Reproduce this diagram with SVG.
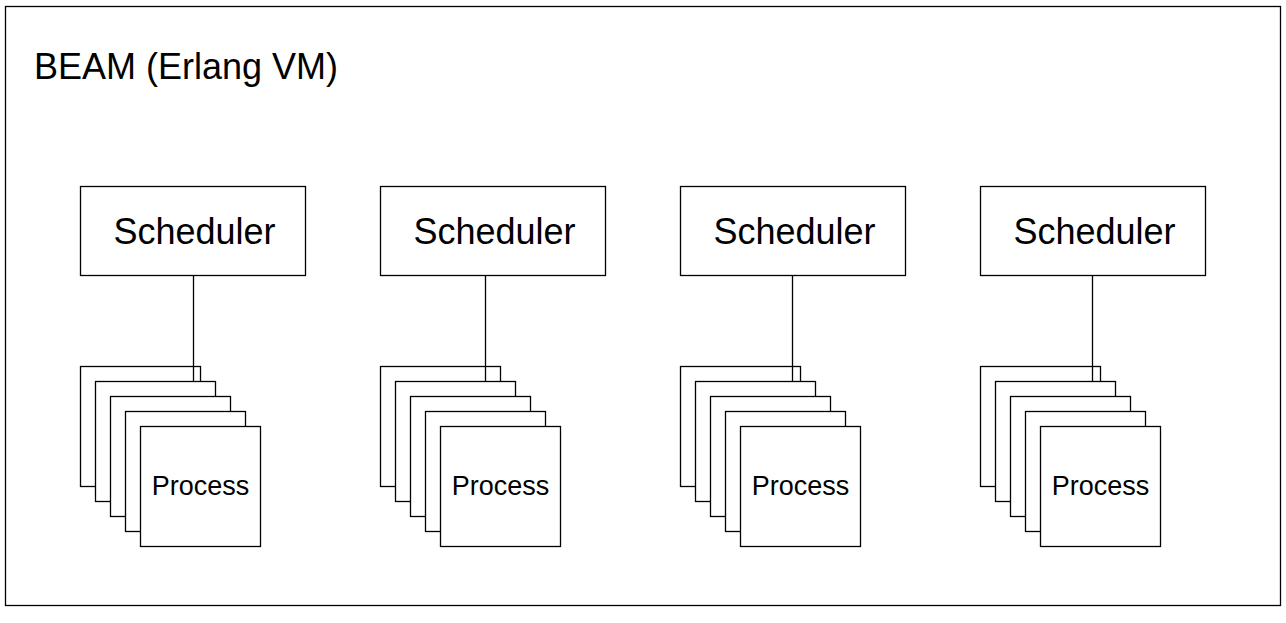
<svg xmlns="http://www.w3.org/2000/svg" width="1286" height="623" viewBox="0 0 1286 623">
<style>
.box{fill:#fff;stroke:#000;stroke-width:1.3}
.ln{stroke:#000;stroke-width:1.3;fill:none}
.t{font-family:"Liberation Sans",Arial,sans-serif;fill:#000}
.sch{font-size:36px;text-anchor:middle}
.pr{font-size:27px;text-anchor:middle}
</style>
<rect x="0" y="0" width="1286" height="623" fill="#fff"/>
<g id="beam">
<rect class="box" x="5.5" y="6.5" width="1275" height="599"/>
<text class="t" x="34" y="79" font-size="36">BEAM (Erlang VM)</text>
</g>
<g id="schedulers">
<g id="scheduler1"><rect class="box" x="80.5" y="186.5" width="225" height="89"/><text class="t sch" x="194.5" y="243.5">Scheduler</text></g>
<g id="scheduler2"><rect class="box" x="380.5" y="186.5" width="225" height="89"/><text class="t sch" x="494.5" y="243.5">Scheduler</text></g>
<g id="scheduler3"><rect class="box" x="680.5" y="186.5" width="225" height="89"/><text class="t sch" x="794.5" y="243.5">Scheduler</text></g>
<g id="scheduler4"><rect class="box" x="980.5" y="186.5" width="225" height="89"/><text class="t sch" x="1094.5" y="243.5">Scheduler</text></g>
</g>
<g id="stack1-back"><rect class="box" x="80.5" y="366.5" width="120" height="120"/></g>
<g id="stack2-back"><rect class="box" x="380.5" y="366.5" width="120" height="120"/></g>
<g id="stack3-back"><rect class="box" x="680.5" y="366.5" width="120" height="120"/></g>
<g id="stack4-back"><rect class="box" x="980.5" y="366.5" width="120" height="120"/></g>
<g id="connectors">
<line class="ln" x1="193.5" y1="275.5" x2="193.5" y2="381.5"/>
<line class="ln" x1="485.5" y1="275.5" x2="485.5" y2="381.5"/>
<line class="ln" x1="792.5" y1="275.5" x2="792.5" y2="381.5"/>
<line class="ln" x1="1092.5" y1="275.5" x2="1092.5" y2="381.5"/>
</g>
<g id="processes1">
<rect class="box" x="95.5" y="381.5" width="120" height="120"/>
<rect class="box" x="110.5" y="396.5" width="120" height="120"/>
<rect class="box" x="125.5" y="411.5" width="120" height="120"/>
<rect class="box" x="140.5" y="426.5" width="120" height="120"/>
<text class="t pr" x="200.5" y="494.5">Process</text>
</g>
<g id="processes2">
<rect class="box" x="395.5" y="381.5" width="120" height="120"/>
<rect class="box" x="410.5" y="396.5" width="120" height="120"/>
<rect class="box" x="425.5" y="411.5" width="120" height="120"/>
<rect class="box" x="440.5" y="426.5" width="120" height="120"/>
<text class="t pr" x="500.5" y="494.5">Process</text>
</g>
<g id="processes3">
<rect class="box" x="695.5" y="381.5" width="120" height="120"/>
<rect class="box" x="710.5" y="396.5" width="120" height="120"/>
<rect class="box" x="725.5" y="411.5" width="120" height="120"/>
<rect class="box" x="740.5" y="426.5" width="120" height="120"/>
<text class="t pr" x="800.5" y="494.5">Process</text>
</g>
<g id="processes4">
<rect class="box" x="995.5" y="381.5" width="120" height="120"/>
<rect class="box" x="1010.5" y="396.5" width="120" height="120"/>
<rect class="box" x="1025.5" y="411.5" width="120" height="120"/>
<rect class="box" x="1040.5" y="426.5" width="120" height="120"/>
<text class="t pr" x="1100.5" y="494.5">Process</text>
</g>
</svg>
